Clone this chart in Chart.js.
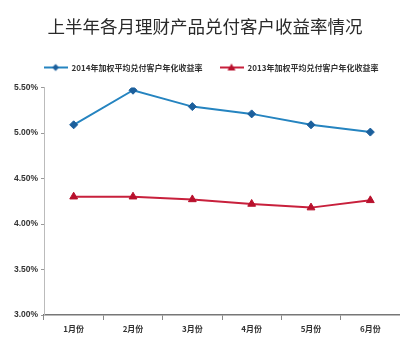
<!DOCTYPE html>
<html>
<head>
<meta charset="utf-8">
<script src="https://cdn.jsdelivr.net/npm/chart.js@4"></script>
<style>
html,body{margin:0;padding:0;background:#fff;}
#wrap{width:400px;height:356px;}
</style>
</head>
<body>
<div id="wrap"><canvas id="c" width="400" height="356"></canvas></div>
<script>
const titleText = '上半年各月理财产品兑付客户收益率情况';
const months = ['1月份','2月份','3月份','4月份','5月份','6月份'];
const series2014Label = '2014年加权平均兑付客户年化收益率';
const series2013Label = '2013年加权平均兑付客户年化收益率';
const rate2014 = [5.09, 5.47, 5.29, 5.21, 5.09, 5.01];
const rate2013 = [4.30, 4.30, 4.27, 4.22, 4.18, 4.26];
const yMin = 3.0, yMax = 5.5, yStep = 0.5;

const blue = '#2584c0', blueDark = '#1b5f9c';
const red = '#c8203c', redDark = '#b8102c';

function legendIcon(color, markColor, style) {
  const cv = document.createElement('canvas');
  cv.width = 24; cv.height = 10;
  const g = cv.getContext('2d');
  g.strokeStyle = color; g.lineWidth = 2;
  g.beginPath(); g.moveTo(0, 5); g.lineTo(24, 5); g.stroke();
  g.fillStyle = markColor;
  g.beginPath();
  if (style === 'diamond') {
    g.moveTo(12, 1.5); g.lineTo(15.5, 5); g.lineTo(12, 8.5); g.lineTo(8.5, 5);
  } else {
    g.moveTo(12, 1); g.lineTo(16, 8); g.lineTo(8, 8);
  }
  g.closePath(); g.fill();
  return cv;
}
const icon2014 = legendIcon(blue, blueDark, 'diamond');
const icon2013 = legendIcon(red, redDark, 'tri');

const legendGap = {
  id: 'legendGap',
  afterInit(chart) {
    const lg = chart.legend;
    if (!lg) return;
    const orig = lg.fit.bind(lg);
    lg.fit = function () { orig(); this.height += 6; };
  },
  afterLayout(chart) {
    const lg = chart.legend;
    if (lg) { lg.left += 6; lg.right += 6; }
  }
};

new Chart(document.getElementById('c'), {
  type: 'line',
  plugins: [legendGap],
  data: {
    labels: months,
    datasets: [
      {
        label: series2014Label, data: rate2014,
        borderColor: blue, backgroundColor: blueDark, borderWidth: 2,
        pointStyle: 'rectRot', pointRadius: 4, pointBackgroundColor: blueDark,
        pointBorderColor: blueDark, pointBorderWidth: 1, tension: 0
      },
      {
        label: series2013Label, data: rate2013,
        borderColor: red, backgroundColor: redDark, borderWidth: 2,
        pointStyle: 'triangle', pointRadius: 4.5, pointBackgroundColor: redDark,
        pointBorderColor: redDark, pointBorderWidth: 1, tension: 0
      }
    ]
  },
  options: {
    responsive: false,
    animation: false,
    devicePixelRatio: 1,
    layout: { autoPadding: false, padding: { left: 10, right: 0, top: 0, bottom: 0 } },
    plugins: {
      title: {
        display: true, text: titleText, color: '#2a2a2a',
        font: { family: '"Noto Sans CJK SC", sans-serif', size: 17.5, weight: 'normal' },
        padding: { top: 16, bottom: 9.5 }
      },
      legend: {
        display: true, position: 'top',
        labels: {
          color: '#333',
          font: { family: '"Noto Sans CJK SC", sans-serif', size: 8, weight: 'bold' },
          usePointStyle: true, pointStyleWidth: 24, boxHeight: 8, padding: 17,
          generateLabels(chart) {
            const items = Chart.defaults.plugins.legend.labels.generateLabels(chart);
            items[0].pointStyle = icon2014;
            items[1].pointStyle = icon2013;
            return items;
          }
        }
      },
      tooltip: { enabled: false }
    },
    scales: {
      x: {
        offset: true,
        grid: { display: true, drawOnChartArea: false, offset: true, tickLength: 5, color: '#888', lineWidth: 1 },
        border: { display: true, color: '#777', width: 1.5 },
        ticks: {
          color: '#333', padding: 4, maxRotation: 0,
          font: { family: '"Noto Sans CJK SC", sans-serif', size: 8, weight: 'bold' }
        },
        afterFit(s) { s.height = 41; s.paddingRight = 0; s.paddingLeft = 0; }
      },
      y: {
        min: yMin, max: yMax,
        grid: { display: true, drawOnChartArea: false, tickLength: 3, color: '#999' },
        border: { display: true, color: '#bbb', width: 1 },
        ticks: {
          stepSize: yStep, color: '#333', padding: 3,
          font: { family: '"Liberation Sans", Arial, sans-serif', size: 8.5, weight: 'bold' },
          callback: v => v.toFixed(2) + '%'
        },
        afterFit(s) { s.width = 34; }
      }
    }
  }
});
</script>
</body>
</html>
